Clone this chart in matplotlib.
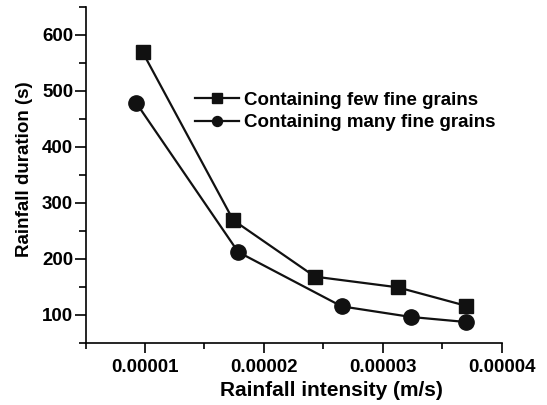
import matplotlib.pyplot as plt
from matplotlib.ticker import MultipleLocator

plt.rcParams['font.family'] = ['Liberation Sans', 'DejaVu Sans']
plt.rcParams['font.weight'] = 'bold'

x_few = [0.98e-5, 1.742e-5, 2.43e-5, 3.125e-5, 3.70e-5]
y_few = [569, 269, 168, 149, 116]
x_many = [0.924e-5, 1.784e-5, 2.654e-5, 3.237e-5, 3.70e-5]
y_many = [479, 212, 115, 96, 87]
xticks = [1e-5, 2e-5, 3e-5, 4e-5]
xticklabels = ["0.00001", "0.00002", "0.00003", "0.00004"]

fig = plt.figure(figsize=(5.47, 4.05), dpi=100)
ax = fig.add_axes([0.1565, 0.1538, 0.917 - 0.1565, 0.983 - 0.1538])

ax.plot(x_few, y_few, color="#111111", lw=1.6, marker="s", ms=10,
        label="Containing few fine grains")
ax.plot(x_many, y_many, color="#111111", lw=1.6, marker="o", ms=11,
        label="Containing many fine grains")

ax.set_xlim(0.5e-5, 4e-5)
ax.set_ylim(50, 650)
ax.set_xticks(xticks)
ax.set_xticklabels(xticklabels)
ax.set_xticks([0.5e-5, 1.5e-5, 2.5e-5, 3.5e-5], minor=True)
ax.set_yticks([100, 200, 300, 400, 500, 600])
ax.yaxis.set_minor_locator(MultipleLocator(50))

for s in ["top", "right"]:
    ax.spines[s].set_visible(False)
for s in ["left", "bottom"]:
    ax.spines[s].set_linewidth(1.2)

ax.tick_params(which="major", direction="out", length=7, width=1.2, labelsize=13.5)
ax.tick_params(which="minor", direction="out", length=4, width=1.2)
ax.tick_params(axis="x", which="major", pad=5)
ax.tick_params(axis="y", which="major", length=8, pad=1)
ax.tick_params(axis="y", which="minor", length=5)

ax.set_xlabel("Rainfall intensity (m/s)", fontsize=15, fontweight="bold")
ax.set_ylabel("Rainfall duration (s)", fontsize=13.5, fontweight="bold")
# the original labels sit a bit off-centre
ax.xaxis.set_label_coords(0.59, -0.114)
ax.yaxis.set_label_coords(-0.126, 0.518)

ax.legend(loc="upper left", bbox_to_anchor=(0.263, 0.747), frameon=False,
          fontsize=13.5, handlelength=2.35, markerscale=0.65,
          labelspacing=0.27, handletextpad=0.27, borderpad=0, borderaxespad=0)

fig.savefig("out.png", dpi=100)
